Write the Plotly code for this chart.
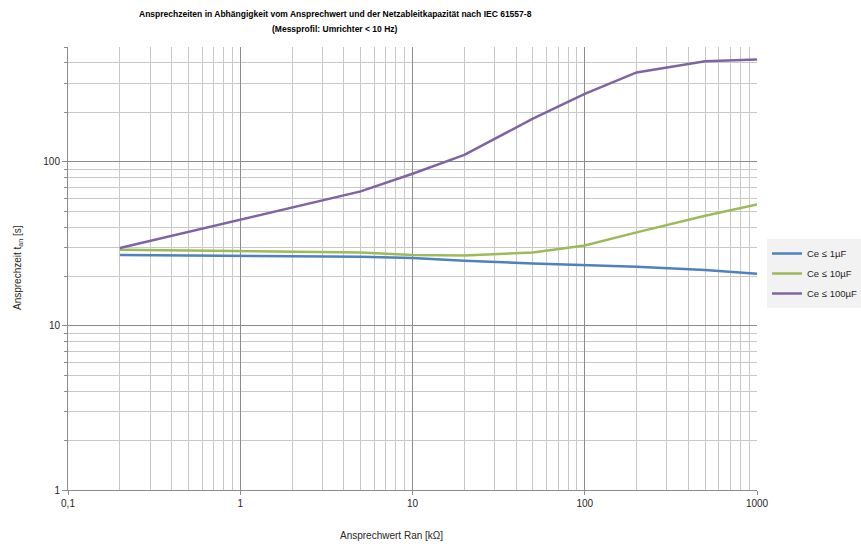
import plotly.graph_objects as go

# Data
r_an = [0.2, 1, 5, 10, 20, 50, 100, 200, 500, 1000]          # Ansprechwert [kOhm]
t_1uF = [27.0, 26.6, 26.4, 25.9, 24.9, 24.0, 23.4, 22.9, 21.9, 20.8]
t_10uF = [29.1, 28.5, 28.0, 27.0, 26.8, 28.0, 30.9, 37.1, 46.9, 54.9]
t_100uF = [29.8, 44.4, 66.0, 84.5, 110.0, 183.0, 259.0, 350.0, 409.0, 419.0]

series_names = ["Ce ≤ 1µF", "Ce ≤ 10µF", "Ce ≤ 100µF"]
series_colors = ["#4F81BD", "#9BBB59", "#8064A2"]

x_tickvals = [0.1, 1, 10, 100, 1000]
x_ticktext = ["0,1", "1", "10", "100", "1000"]
y_tickvals = [1, 10, 100]
y_ticktext = ["1", "10", "100"]

x_minor = [m * 10 ** e for e in range(-1, 3) for m in range(2, 10)]
y_minor = [m * 10 ** e for e in range(0, 3) for m in range(2, 10) if m * 10 ** e <= 500]

FONT = "Liberation Sans, Arial, sans-serif"
L, R, T, B = 68, 104, 47, 57
W, H = 861, 547
pw, ph = W - L - R, H - T - B


def px(xp, yp):
    """pixel position (from top-left) -> paper coordinates"""
    return (xp - L) / pw, (H - yp - B) / ph


fig = go.Figure()
for name, col, vals in zip(series_names, series_colors, [t_1uF, t_10uF, t_100uF]):
    fig.add_trace(go.Scatter(x=r_an, y=vals, mode="lines", name=name, legendgroup=name,
                             line=dict(color=col, width=2.5)))

annots = []
for text, (xp, yp), size, angle, color in [
    ("<b>Ansprechzeiten in Abhängigkeit vom Ansprechwert und der Netzableitkapazität nach IEC 61557-8</b>",
     (335, 14), 8.5, 0, "#000000"),
    ("<b>(Messprofil: Umrichter &lt; 10 Hz)</b>", (335, 29), 8.5, 0, "#000000"),
    ("Ansprechwert Ran [kΩ]", (391, 535), 10, 0, "#262626"),
    ("Ansprechzeit t<sub>an</sub> [s]", (18, 268), 10, -90, "#262626"),
]:
    ax, ay = px(xp, yp)
    annots.append(dict(text=text, x=ax, y=ay, xref="paper", yref="paper",
                       xanchor="center", yanchor="middle", showarrow=False,
                       textangle=angle, font=dict(size=size, family=FONT, color=color)))

lx, ly = px(767, 239)

fig.update_layout(
    width=W, height=H,
    margin=dict(l=L, r=R, t=T, b=B, autoexpand=False),
    paper_bgcolor="white", plot_bgcolor="white",
    font=dict(family=FONT, size=10, color="#262626"),
    showlegend=True,
    legend=dict(x=lx, y=ly, xanchor="left", yanchor="top",
                bgcolor="#f2f2f2", font=dict(size=9.5, color="#262626"),
                itemwidth=30, tracegroupgap=1),
    xaxis=dict(type="log", range=[-1, 3], tickmode="array",
               tickvals=x_tickvals, ticktext=x_ticktext,
               showgrid=True, gridcolor="#8c8c8c", gridwidth=1,
               showline=True, linecolor="#8c8c8c", linewidth=1,
               ticks="outside", ticklen=4, tickcolor="#8c8c8c",
               zeroline=False,
               minor=dict(tickmode="array", tickvals=x_minor, showgrid=True,
                          gridcolor="#c8c8c8", gridwidth=1)),
    yaxis=dict(type="log", range=[0, 2.69897], tickmode="array",
               tickvals=y_tickvals, ticktext=y_ticktext,
               showgrid=True, gridcolor="#8c8c8c", gridwidth=1,
               showline=True, linecolor="#8c8c8c", linewidth=1,
               ticks="outside", ticklen=5, tickcolor="#8c8c8c",
               zeroline=False,
               minor=dict(tickmode="array", tickvals=y_minor, showgrid=True,
                          gridcolor="#c8c8c8", gridwidth=1,
                          ticks="outside", ticklen=3, tickcolor="#8c8c8c")),
    annotations=annots,
)

fig.write_html("out.html", config={"displayModeBar": False})

# remove the default page margin so the figure sits at the window's top-left corner
with open("out.html", encoding="utf-8") as f:
    html = f.read()
html = html.replace("<head>", "<head><style>html,body{margin:0;padding:0;overflow:hidden}</style>", 1)
with open("out.html", "w", encoding="utf-8") as f:
    f.write(html)
